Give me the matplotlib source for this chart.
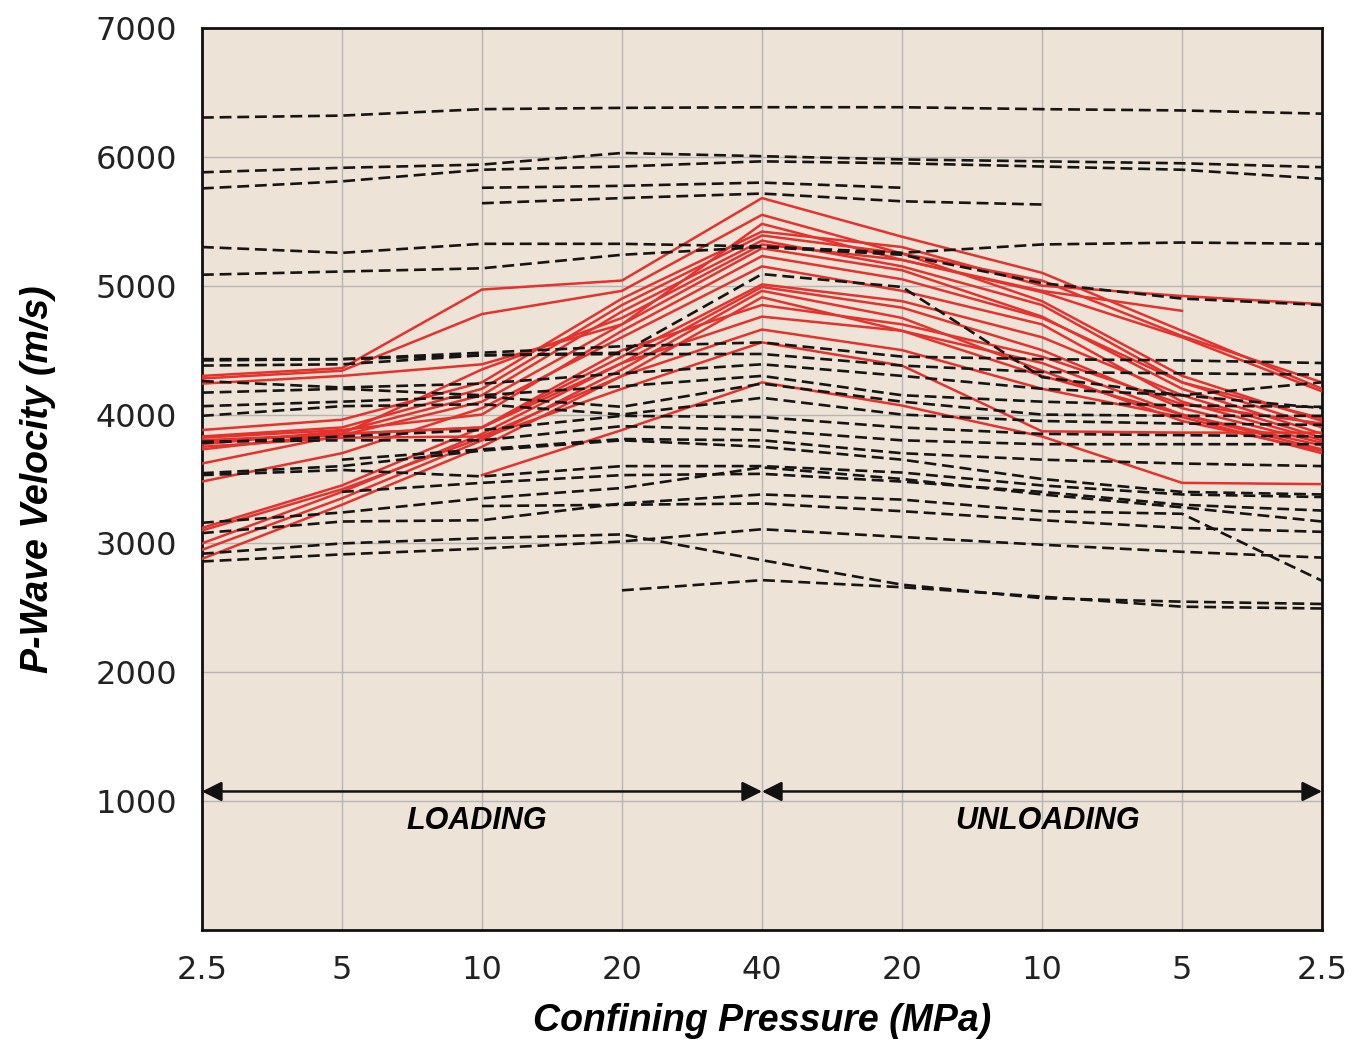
import numpy as np
import matplotlib
matplotlib.use("Agg")
import matplotlib.pyplot as plt

nan = np.nan

# pressure steps: loading 2.5 -> 40 MPa, then unloading 40 -> 2.5 MPa
pressure_labels = ["2.5", "5", "10", "20", "40", "20", "10", "5", "2.5"]

# P-wave velocity (m/s) at each step - samples shown as solid red lines
red_series = [
    [4300, 4360, 4970, 5040, 5680, 5380, 5100, 4650, 4200],
    [4280, 4340, 4780, 4960, 5550, 5250, 5040, 4610, 4250],
    [4240, 4300, 4390, 4700, 5480, 5200, 4950, 4600, 4180],
    [3880, 3960, 4250, 4900, 5420, 5300, 5000, 4920, 4857],
    [3830, 3900, 4200, 4850, 5390, 5250, 4880, 4300, 3950],
    [3770, 3870, 4150, 4800, 5350, 5150, 4850, 4250, 3900],
    [3730, 3850, 4350, 4750, 5320, 5200, 4960, 4805, nan],
    [3620, 3840, 4100, 4700, 5290, 5120, 4760, 4200, 3850],
    [3820, 3880, 4000, 4650, 5230, 5050, 4750, 4250, 3970],
    [3480, 3700, 4050, 4600, 5150, 4960, 4700, 4100, 3800],
    [3120, 3450, 3900, 4450, 5010, 4880, 4600, 4150, 3820],
    [3000, 3400, 3850, 4400, 4990, 4830, 4500, 4050, 3780],
    [2950, 3350, 3800, 4350, 4960, 4750, 4340, 3950, 3720],
    [2880, 3300, 3750, 4300, 4910, 4650, 4400, 4000, 3760],
    [3790, 3850, 3900, 4500, 4850, 4700, 4450, 4080, 3930],
    [3800, 3850, 3900, 4400, 4760, 4650, 4300, 4000, 3730],
    [3750, 3820, 3830, 4300, 4660, 4500, 4200, 3980, 3700],
    [3100, 3420, 3820, 4200, 4560, 4380, 3870, 3860, 3860],
    [nan, nan, 3530, 3880, 4250, 4070, 3830, 3470, 3460],
]

# samples shown as dashed black lines
black_series = [
    [6305, 6320, 6370, 6380, 6385, 6385, 6370, 6360, 6335],
    [5880, 5915, 5940, 6030, 6005, 5980, 5965, 5950, 5920],
    [5755, 5810, 5900, 5925, 5965, 5950, 5925, 5900, 5830],
    [nan, nan, 5760, 5775, 5800, 5760, nan, nan, nan],
    [nan, nan, 5640, 5680, 5715, 5655, 5630, nan, nan],
    [5300, 5255, 5325, 5325, 5305, 5255, 5320, 5335, 5325],
    [5085, 5110, 5135, 5240, 5300, 5240, 5020, 4900, 4850],
    [4420, 4430, 4460, 4480, 5090, 4990, 4290, 4150, 4050],
    [4430, 4430, 4480, 4530, 4560, 4450, 4430, 4420, 4400],
    [4380, 4390, 4460, 4470, 4470, 4380, 4330, 4320, 4310],
    [4260, 4210, 4240, 4320, 4390, 4300, 4200, 4150, 4250],
    [4170, 4200, 4150, 4220, 4300, 4150, 4100, 4070, 4060],
    [4065, 4100, 4140, 4060, 4240, 4100, 4000, 3990, 3990],
    [3990, 4065, 4080, 4000, 4130, 4000, 3950, 3930, 3920],
    [3780, 3830, 3880, 3990, 3980, 3900, 3850, 3840, 3830],
    [3790, 3800, 3800, 3910, 3880, 3800, 3770, 3770, 3770],
    [nan, 3650, 3730, 3810, 3800, 3700, 3650, 3620, 3600],
    [3545, 3600, 3720, 3800, 3750, 3650, 3500, 3400, 3380],
    [3530, 3570, 3520, 3600, 3600, 3550, 3450, 3380, 3360],
    [nan, 3400, 3470, 3530, 3540, 3480, 3400, 3300, 3255],
    [3160, 3240, 3350, 3430, 3590, 3500, 3380, 3280, 3170],
    [3080, 3170, 3180, 3310, 3380, 3340, 3250, 3230, 2710],
    [nan, nan, 3290, 3300, 3310, 3250, 3180, 3120, 3090],
    [2920, 3000, 3040, 3070, 2870, 2680, 2575, 2548, 2530],
    [2860, 2915, 2960, 3015, 3110, 3050, 2990, 2935, 2890],
    [nan, nan, nan, 2636, 2715, 2660, 2587, 2509, 2495],
]

x = np.arange(len(pressure_labels))

fig = plt.figure(figsize=(13.58, 10.44), dpi=100)
ax = fig.add_axes([0.1487, 0.1092, 0.8248, 0.864])
ax.set_facecolor("#ede3d7")

for vals in red_series:
    ax.plot(x, vals, color="#e5322d", lw=1.8, zorder=3)

for vals in black_series:
    ax.plot(x, vals, color="#151515", lw=1.9, dashes=(4.5, 2.2), zorder=4)

label_font = dict(fontweight="bold", fontstyle="italic", family="Liberation Sans")

# loading / unloading arrows
arrow_y = 1075
for x0, x1 in [(0, 4), (4, 8)]:
    ax.annotate("", xy=(x1, arrow_y), xytext=(x0, arrow_y),
                arrowprops=dict(arrowstyle="<|-|>", color="#111111", lw=1.8,
                                mutation_scale=30, shrinkA=0, shrinkB=0),
                zorder=5)
ax.text(1.96, 845, "LOADING", ha="center", va="center", fontsize=22, **label_font)
ax.text(6.04, 845, "UNLOADING", ha="center", va="center", fontsize=22, **label_font)

ax.set_xlim(0, 8)
ax.set_ylim(0, 7000)
ax.set_xticks(x)
ax.set_xticklabels(pressure_labels)
ax.set_yticks(range(1000, 8000, 1000))
ax.tick_params(length=0, labelsize=23, pad=18)
for lab in ax.get_xticklabels() + ax.get_yticklabels():
    lab.set_family("DejaVu Sans")
    lab.set_color("#222222")

ax.grid(True, color="#b5b5b5", lw=1.0, zorder=1)
ax.set_axisbelow(True)
for side in ax.spines.values():
    side.set_linewidth(2.0)
    side.set_color("#111111")

ax.set_xlabel("Confining Pressure (MPa)", fontsize=27, labelpad=12, **label_font)
ax.set_ylabel("P-Wave Velocity (m/s)", fontsize=27, labelpad=28, **label_font)

fig.savefig("out.png", dpi=100)
